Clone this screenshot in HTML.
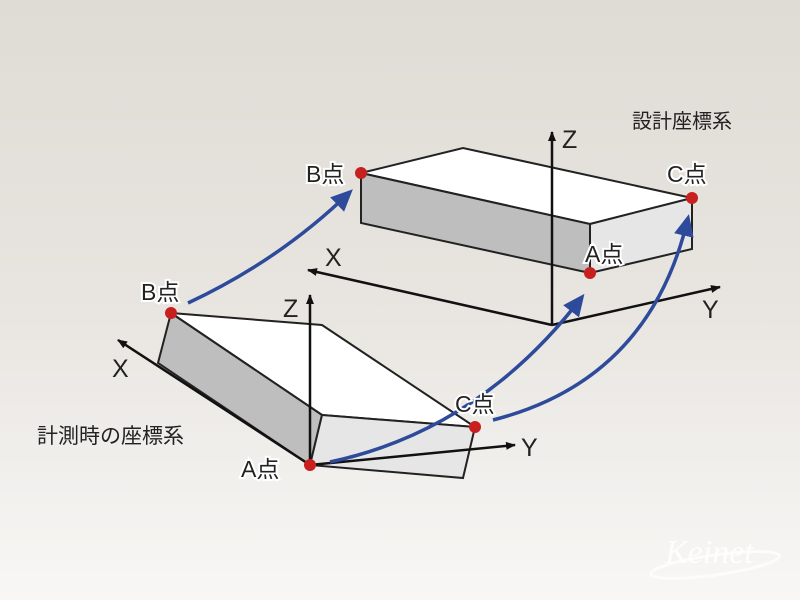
<!DOCTYPE html>
<html><head><meta charset="utf-8"><style>
html,body{margin:0;padding:0;width:800px;height:600px;overflow:hidden}
body{background:linear-gradient(#dfdbd5 0%,#e8e5e0 50%,#f8f7f5 100%);}
svg{display:block}
svg text{font-family:"Liberation Sans","Noto Sans CJK JP",sans-serif;fill:#222}
</style></head><body>
<svg width="800" height="600" viewBox="0 0 800 600">
<defs>
<marker id="ak" markerWidth="10" markerHeight="8" refX="9" refY="4" orient="auto" markerUnits="userSpaceOnUse"><path d="M0,0 L10,4 L0,8 z" fill="#111"/></marker>
<marker id="ab" markerWidth="22" markerHeight="20" refX="18" refY="10" orient="auto" markerUnits="userSpaceOnUse"><path d="M0,0 L22,10 L0,20 z" fill="#2e4a9a"/></marker>
</defs>
<polygon points="361,173 463,148 692,198 590,224" fill="#fff" stroke="#222" stroke-width="2"/>
<polygon points="361,173 590,224 590,273 361,223" fill="#bebebe" stroke="#222" stroke-width="2"/>
<polygon points="590,224 692,198 692,249 590,273" fill="#e6e6e6" stroke="#222" stroke-width="2"/>
<line x1="552" y1="325" x2="552" y2="132" stroke="#111" stroke-width="2.5" marker-end="url(#ak)"/>
<line x1="552" y1="325" x2="308" y2="270" stroke="#111" stroke-width="2.5" marker-end="url(#ak)"/>
<line x1="552" y1="325" x2="720" y2="287" stroke="#111" stroke-width="2.5" marker-end="url(#ak)"/>
<polygon points="171,313 322,325 475,427 322,415" fill="#fff" stroke="#222" stroke-width="2"/>
<polygon points="171,313 322,415 310,465 158,363" fill="#bebebe" stroke="#222" stroke-width="2"/>
<polygon points="322,415 475,427 463,478 310,465" fill="#e6e6e6" stroke="#222" stroke-width="2"/>
<line x1="310" y1="465" x2="310" y2="295" stroke="#111" stroke-width="2.5" marker-end="url(#ak)"/>
<line x1="310" y1="465" x2="118" y2="340" stroke="#111" stroke-width="2.5" marker-end="url(#ak)"/>
<line x1="310" y1="465" x2="515" y2="445" stroke="#111" stroke-width="2.5" marker-end="url(#ak)"/>
<path d="M188,303 Q280,260 350,192" fill="none" stroke="#2e4a9a" stroke-width="3.5" marker-end="url(#ab)"/>
<path d="M330,462 Q480,430 582,297" fill="none" stroke="#2e4a9a" stroke-width="3.5" marker-end="url(#ab)"/>
<path d="M493,420 Q650,380 688,218" fill="none" stroke="#2e4a9a" stroke-width="3.5" marker-end="url(#ab)"/>
<g fill="#c8201e">
<circle cx="361" cy="173" r="6"/><circle cx="692" cy="198" r="6"/><circle cx="590" cy="273" r="6"/>
<circle cx="171" cy="313" r="6"/><circle cx="475" cy="427" r="6"/><circle cx="310" cy="465" r="6"/>
</g>
<g font-size="25">
<text x="562" y="148">Z</text><text x="325" y="266">X</text><text x="702" y="318">Y</text>
<text x="283" y="317">Z</text><text x="112" y="377">X</text><text x="521" y="456">Y</text>
</g>
<g font-size="23" stroke="#fff" stroke-width="4" paint-order="stroke">
<text x="306" y="182">B点</text><text x="667" y="182">C点</text><text x="585" y="262">A点</text>
<text x="141" y="300">B点</text><text x="455" y="412">C点</text><text x="241" y="477">A点</text>
</g>
<text x="632" y="128" font-size="20">設計座標系</text>
<text x="37" y="443" font-size="21">計測時の座標系</text>
<ellipse cx="715" cy="565" rx="65" ry="10" fill="none" stroke="#fff" stroke-width="3" opacity="0.7" transform="rotate(-8 715 565)"/>
<text x="665" y="563" font-size="34" font-style="italic" style="font-family:'Liberation Serif',serif;fill:#fff;opacity:0.85">Keinet</text>
</svg>
</body></html>
